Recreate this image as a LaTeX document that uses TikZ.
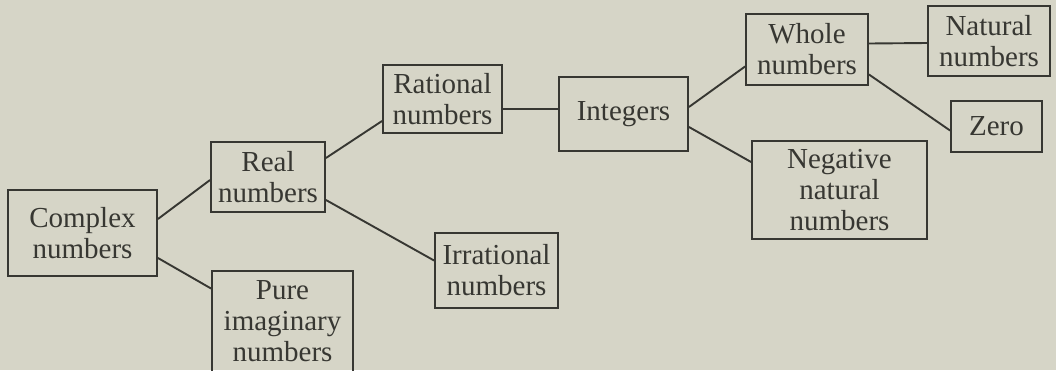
\documentclass[tikz,border=0pt]{standalone}
\usepackage{fontspec}
\setmainfont{Liberation Serif}
\usetikzlibrary{calc}
\definecolor{paper}{RGB}{214,213,199}
\definecolor{ink}{RGB}{55,55,50}

\begin{document}
\begin{tikzpicture}[x=1pt,y=-1pt,
    numbox/.style={draw=ink,line width=1.9pt,text=ink,inner sep=0pt,align=center,
      font=\fontsize{29}{31}\selectfont},
    link/.style={ink,line width=1.9pt}]
  \useasboundingbox (0,0) rectangle (1056,370);
  \clip (0,0) rectangle (1056,370);
  \fill[paper] (0,0) rectangle (1056,370);
  % boxes of the tree, left to right
  \node[numbox,minimum width=149pt,minimum height=86pt] (cplx) at (82.5,233) {Complex\\numbers};
  \node[numbox,minimum width=114pt,minimum height=70pt] (real) at (268,177) {Real\\numbers};
  \node[numbox,minimum width=141pt,minimum height=101pt] (pure) at (282.5,321.5) {Pure\\imaginary\\numbers};
  \node[numbox,minimum width=119pt,minimum height=68pt] (rat) at (442.5,99) {Rational\\numbers};
  \node[numbox,minimum width=123pt,minimum height=75pt] (irr) at (496.5,270.5) {Irrational\\numbers};
  \node[numbox,minimum width=129pt,minimum height=74pt] (int) at (623.5,114) {Integers};
  \node[numbox,minimum width=122pt,minimum height=71pt] (whole) at (807,49.5) {Whole\\numbers};
  \node[numbox,minimum width=175pt,minimum height=98pt] (neg) at (839.5,190) {Negative\\natural\\numbers};
  \node[numbox,minimum width=122pt,minimum height=70pt] (nat) at (989,41) {Natural\\numbers};
  \node[numbox,minimum width=91pt,minimum height=51pt] (zero) at (996.5,126.5) {Zero};
  % branches: parent east side to child west side (shifts in pt)
  \foreach \p/\dp/\c/\dc in {cplx/14/real/-3, cplx/-25/pure/33, real/19/rat/-22,
      real/-23/irr/10, rat/-10/int/5, int/7/whole/-17, int/-13/neg/28,
      whole/6/nat/-2, whole/-25/zero/-4}{
    \draw[link] ([yshift=\dp pt]\p.east) -- ([yshift=\dc pt]\c.west);
  }
\end{tikzpicture}
\end{document}
